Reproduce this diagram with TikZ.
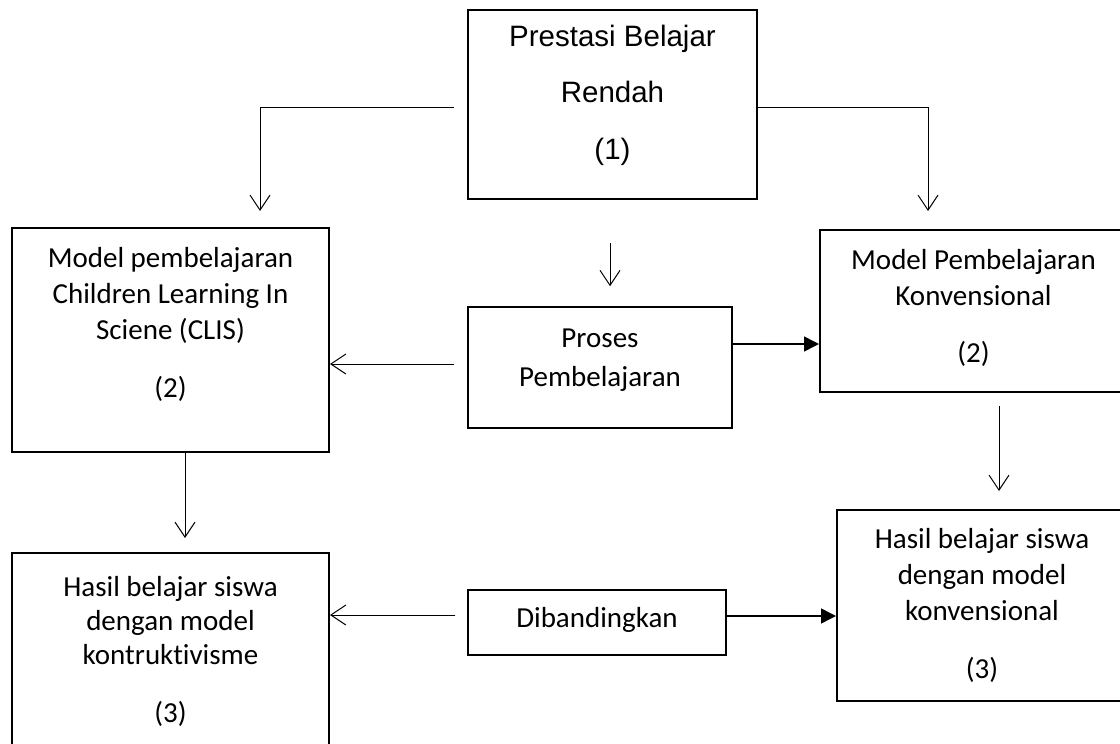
\documentclass[tikz,border=0pt]{standalone}
\usepackage{fontspec}
\setmainfont[Ligatures=NoCommon]{Carlito}
\newfontfamily\arialf{Liberation Sans}
\usetikzlibrary{arrows.meta}
\tikzset{
  box/.style={draw=black, line width=2pt, rectangle, inner sep=0pt},
  thinbox/.style={draw=black, line width=1.5pt, rectangle, inner sep=0pt},
  txt/.style={align=center, inner sep=0pt, font=\fontsize{29}{36}\selectfont},
  toptxt/.style={align=center, inner sep=0pt, font=\arialf\fontsize{29.5}{56.5}\selectfont},
  openarr/.style={line width=1pt, -{Straight Barb[length=15pt,width=20pt,line width=1pt]}},
  fillarr/.style={line width=1.5pt, -{Triangle[length=15pt,width=15pt]}}
}
\begin{document}
\begin{tikzpicture}[x=1pt,y=-1pt]
\useasboundingbox (0,0) rectangle (1120,744);
\clip (0,0) rectangle (1120,744);
\fill[white] (0,0) rectangle (1120,744);

% boxes
\node[box, minimum width=289pt, minimum height=189pt] (top) at (612.5,104.5) {};
\node[box, minimum width=317pt, minimum height=224pt] (L1) at (170.5,340) {};
\node[box, minimum width=307pt, minimum height=162pt] (R1) at (973.5,311) {};
\node[thinbox, minimum width=264pt, minimum height=121pt] (P) at (600,367.5) {};
\node[box, minimum width=317pt, minimum height=207pt] (L2) at (170.5,656.5) {};
\node[thinbox, minimum width=258pt, minimum height=65pt] (D) at (597,622.5) {};
\node[box, minimum width=290pt, minimum height=191pt] (R2) at (982,605.5) {};

% texts
\node[toptxt] (topt) at (612.5,95) {Prestasi Belajar\\Rendah\\(1)};
\node[txt] (L1t) at (170.5,324) {Model pembelajaran\\Children Learning In\\Sciene (CLIS)\\[22pt](2)};
\node[txt] (R1t) at (973.5,308) {Model Pembelajaran\\Konvensional\\[21pt](2)};
\node[txt, font=\fontsize{29}{39}\selectfont] (Pt) at (600,360) {Proses\\Pembelajaran};
\node[txt, font=\fontsize{29}{34}\selectfont] (L2t) at (170.5,651) {Hasil belajar siswa\\dengan model\\kontruktivisme\\[24pt](3)};
\node[txt] (R2t) at (982,605) {Hasil belajar siswa\\dengan model\\konvensional\\[22pt](3)};
\node[txt] (Dt) at (597,620) {Dibandingkan};

% connectors
\draw[openarr, shorten <=13pt, shorten >=16pt] ([yshift=-2.5pt]top.west) -| ([xshift=89.5pt]L1.north);
\draw[openarr, shorten >=18pt] ([yshift=-2.5pt]top.east) -| ([xshift=-45.5pt]R1.north);
\draw[openarr, shorten <=43pt, shorten >=20pt] ([xshift=-2.5pt]top.south) -- ([xshift=-2.5pt]top.south |- P.north);
\draw[openarr, shorten <=13pt] ([yshift=3.5pt]P.west) -- ([yshift=3.5pt]P.west -| L1.east);
\draw[fillarr] ([yshift=23.5pt]P.east) -- ([yshift=23.5pt]P.east -| R1.west);
\draw[openarr, shorten >=14pt] ([xshift=14.5pt]L1.south) -- ([xshift=14.5pt]L1.south |- L2.north);
\draw[openarr, shorten <=13pt, shorten >=18pt] ([xshift=25.5pt]R1.south) -- ([xshift=25.5pt]R1.south |- R2.north);
\draw[openarr, shorten <=12pt] ([yshift=7.5pt]D.west) -- ([yshift=7.5pt]D.west -| L2.east);
\draw[fillarr] ([yshift=6.5pt]D.east) -- ([yshift=6.5pt]D.east -| R2.west);
\end{tikzpicture}
\end{document}
